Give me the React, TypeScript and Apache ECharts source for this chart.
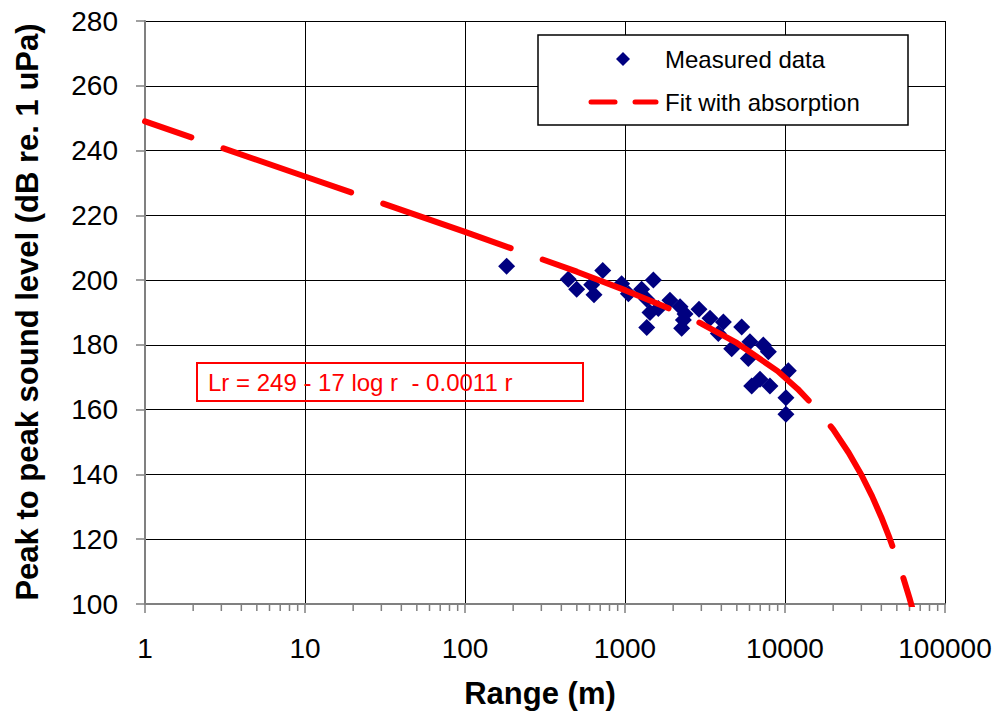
import React, { useEffect, useRef } from "react";
import * as echarts from "echarts";

// Measured data (range in m, peak-to-peak level in dB re. 1 uPa)
const rangeValues = [
  182, 442, 499, 619, 640, 726, 953, 1050, 1270, 1367, 1433, 1367, 1504, 1615,
  1910, 2208, 2316, 2260, 2371, 2900, 3398, 3831, 4120, 4645, 5360, 6040, 5900,
  7320, 7870, 6190, 6980, 8050, 10490, 10140, 10140,
];
const levelValues = [
  204.3, 200.3, 197.2, 198.6, 195.5, 203.0, 198.9, 195.8, 197.2, 194.1, 190.0, 185.4, 200.0, 191.2,
  193.8, 191.8, 187.7, 185.1, 189.5, 191.0, 188.2, 183.5, 187.1, 178.8, 185.5, 181.0, 175.8,
  180.0, 177.9, 167.3, 169.4, 167.3, 172.0, 163.7, 158.6,
];

// Fit with absorption
const fitRange = [
  1, 10, 100, 500, 1000, 2000, 3000, 5000, 9000, 12000, 16000, 20000, 25000,
  30000, 35000, 40000, 45000, 50000, 55000, 60000, 65000,
];
const fitLevel = [
  249.0, 232.0, 214.9, 202.6, 196.9, 190.7, 186.6, 180.6, 171.9, 166.4, 159.9, 153.9, 146.7,
  139.9, 133.3, 126.8, 120.4, 114.1, 107.9, 101.8, 95.7,
];

// Axis ticks
const decades = [1, 10, 100, 1000, 10000];
const minorMultipliers = [2, 3, 4, 5, 6, 7, 8, 9];

const seriesNames = ["Measured data", "Fit with absorption"];
const xTitle = "Range (m)";
const yTitle = "Peak to peak sound level (dB re. 1 uPa)";
const fitLabel = "Lr = 249 - 17 log r  - 0.0011 r";

const FONT = '"Liberation Sans", Arial, Helvetica, sans-serif';
const NAVY = "#000080";
const RED = "#ff0000";

export default function App() {
  const ref = useRef<HTMLDivElement>(null);

  useEffect(() => {
    if (!ref.current) return;
    const chart = echarts.init(ref.current, undefined, { renderer: "svg" });

    const scatterData = rangeValues.map((r, i) => [r, levelValues[i]]);
    const fitData = fitRange.map((r, i) => [r, fitLevel[i]]);
    const minorData: number[][] = [];
    decades.forEach((d) => minorMultipliers.forEach((m) => minorData.push([d * m, 100])));

    chart.setOption({
      animation: false,
      backgroundColor: "#ffffff",
      textStyle: { fontFamily: FONT },
      grid: { left: 145, right: 54, top: 21, bottom: 111, containLabel: false },
      xAxis: {
        type: "log",
        logBase: 10,
        min: 1,
        max: 100000,
        axisLine: { show: true, onZero: false, lineStyle: { color: "#808080", width: 2 } },
        axisTick: { show: true, length: 9, lineStyle: { color: "#808080", width: 1.5 } },
        axisLabel: {
          color: "#000",
          fontSize: 28,
          fontFamily: FONT,
          margin: 30,
          formatter: (v: number) => String(Math.round(v)),
        },
        splitLine: { show: true, lineStyle: { color: "#000", width: 1 } },
        minorTick: { show: false },
      },
      yAxis: {
        type: "value",
        min: 100,
        max: 280,
        interval: 20,
        axisLine: { show: true, lineStyle: { color: "#808080", width: 2 } },
        axisTick: { show: true, length: 9, lineStyle: { color: "#808080", width: 1.5 } },
        axisLabel: { color: "#000", fontSize: 28, fontFamily: FONT, margin: 27 },
        splitLine: { show: true, lineStyle: { color: "#000", width: 1 } },
      },
      series: [
        {
          name: seriesNames[0],
          type: "scatter",
          symbol: "diamond",
          symbolSize: 17,
          itemStyle: { color: NAVY, opacity: 1 },
          data: scatterData,
          z: 3,
        },
        {
          name: seriesNames[1],
          type: "line",
          symbol: "none",
          showSymbol: false,
          clip: true,
          lineStyle: {
            color: RED,
            width: 6,
            type: [135, 34],
            dashOffset: 86,
            cap: "round",
          },
          itemStyle: { color: RED },
          data: fitData,
          z: 4,
        },
        {
          name: "minor ticks",
          type: "scatter",
          symbol: "rect",
          symbolSize: [1.5, 6],
          symbolOffset: [0, 4],
          clip: false,
          silent: true,
          itemStyle: { color: "#808080", opacity: 1 },
          data: minorData,
          z: 1,
        },
      ],
      graphic: [
        {
          type: "text",
          x: 27,
          y: 312,
          rotation: Math.PI / 2,
          style: {
            text: yTitle,
            fontSize: 31,
            fontWeight: "bold",
            fontFamily: FONT,
            fill: "#000",
            align: "center",
            verticalAlign: "middle",
          },
        },
        {
          type: "text",
          x: 540,
          y: 693,
          style: {
            text: xTitle,
            fontSize: 31,
            fontWeight: "bold",
            fontFamily: FONT,
            fill: "#000",
            align: "center",
            verticalAlign: "middle",
          },
        },
        // Legend
        {
          type: "rect",
          shape: { x: 538, y: 35, width: 370, height: 90 },
          style: { fill: "#fff", stroke: "#000", lineWidth: 1.5 },
          z: 20,
        },
        {
          type: "polygon",
          shape: { points: [[623, 52], [630, 59], [623, 66], [616, 59]] },
          style: { fill: NAVY },
          z: 21,
        },
        {
          type: "text",
          x: 665,
          y: 59,
          style: {
            text: seriesNames[0],
            fontSize: 24,
            fontFamily: FONT,
            fill: "#000",
            align: "left",
            verticalAlign: "middle",
          },
          z: 21,
        },
        {
          type: "line",
          shape: { x1: 591, y1: 102, x2: 615, y2: 102 },
          style: { stroke: RED, lineWidth: 5, lineCap: "round" },
          z: 21,
        },
        {
          type: "line",
          shape: { x1: 635, y1: 102, x2: 656, y2: 102 },
          style: { stroke: RED, lineWidth: 5, lineCap: "round" },
          z: 21,
        },
        {
          type: "text",
          x: 665,
          y: 102,
          style: {
            text: seriesNames[1],
            fontSize: 24,
            fontFamily: FONT,
            fill: "#000",
            align: "left",
            verticalAlign: "middle",
          },
          z: 21,
        },
        // Fit equation box
        {
          type: "rect",
          shape: { x: 197, y: 363, width: 386, height: 38 },
          style: { fill: "none", stroke: RED, lineWidth: 2 },
          z: 10,
        },
        {
          type: "text",
          x: 208,
          y: 382,
          style: {
            text: fitLabel,
            fontSize: 24,
            fontFamily: FONT,
            fill: RED,
            align: "left",
            verticalAlign: "middle",
          },
          z: 10,
        },
      ],
    });

    return () => chart.dispose();
  }, []);

  return (
    <div
      ref={ref}
      style={{ position: "absolute", left: 0, top: 0, width: 999, height: 715, background: "#fff" }}
    />
  );
}
